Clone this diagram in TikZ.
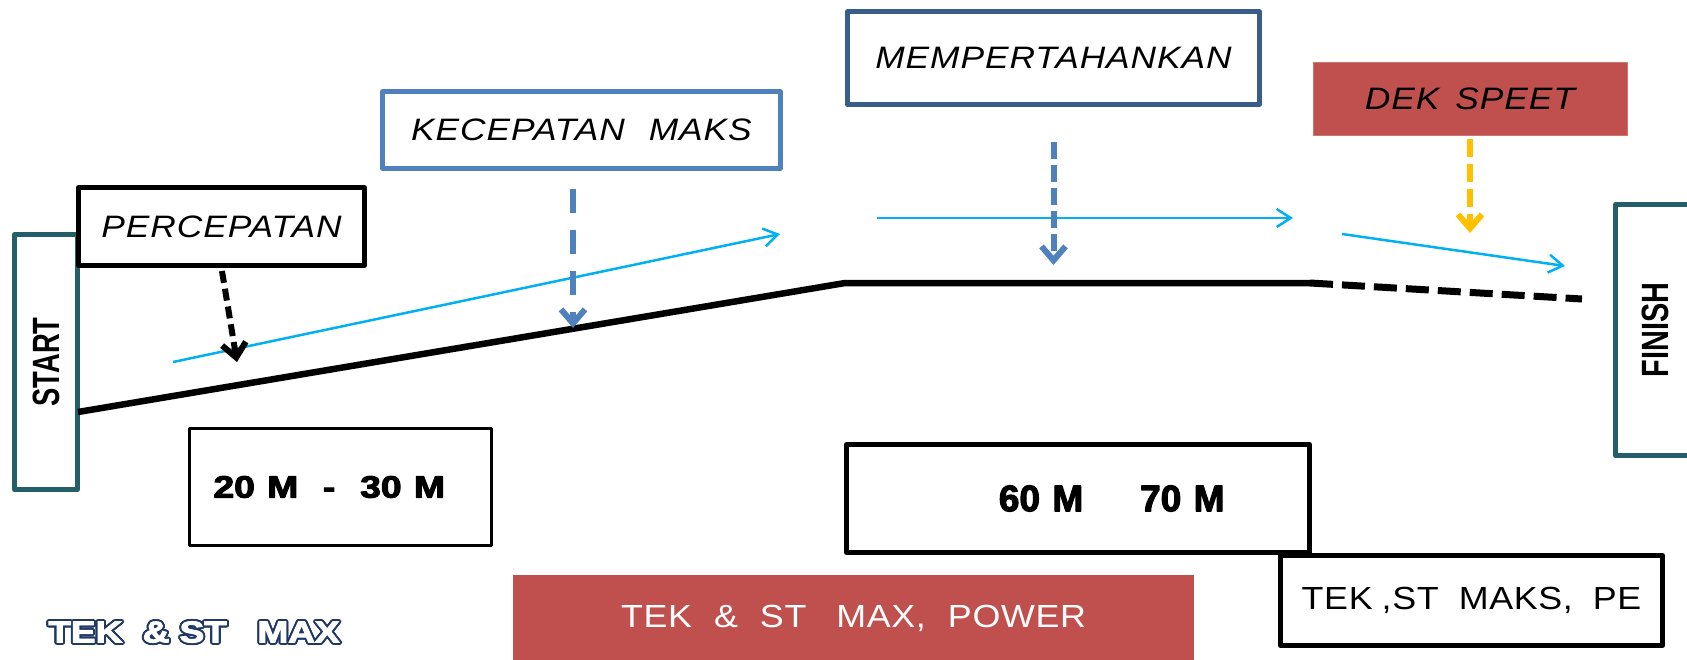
\documentclass[tikz,border=0pt]{standalone}
\usepackage{graphicx}
\usepackage{fontspec}
\usepackage{contour}
\setmainfont{Liberation Sans}
\newfontfamily\spacedfont{Liberation Sans}[FakeStretch=1.12,LetterSpace=2]
\newfontfamily\phasefont{Liberation Sans}[FakeStretch=1.14,LetterSpace=3]
\newfontfamily\heavyfont{Liberation Sans Bold}[FakeBold=3]
\usetikzlibrary{arrows.meta}
\definecolor{tealline}{HTML}{245E6B}
\definecolor{midblue}{HTML}{4F81BD}
\definecolor{darkblue}{HTML}{385D8A}
\definecolor{brickred}{HTML}{C0504D}
\definecolor{skyline}{HTML}{00B0F0}
\definecolor{goldline}{HTML}{FFC000}
\definecolor{navytext}{HTML}{1F3864}
\contourlength{2pt}
\tikzset{
	endstyle/.style={rectangle,draw=tealline,line width=5pt,line join=round,rotate=90,inner sep=0pt,font=\bfseries\fontsize{38}{40}\selectfont},
	phasestyle/.style={rectangle,line width=5pt,line join=round,inner sep=0pt,font=\phasefont\itshape\fontsize{31}{36}\selectfont},
	rangestyle/.style={rectangle,draw=black,line join=round,inner sep=0pt},
	redstyle/.style={rectangle,fill=brickred,inner sep=0pt},
	pacestyle/.style={draw=skyline,line width=2.5pt,-{Straight Barb[length=14pt,width=18pt]}},
	cuestyle/.style={line width=6pt,-{Straight Barb[length=14pt,width=24pt]}}
}

\begin{document}
\begin{tikzpicture}[x=1pt,y=-1pt]
	\useasboundingbox (0,0) rectangle (1687,659);
	\node[endstyle,minimum width=255pt,minimum height=63pt] (start) at (46,362) {\scalebox{0.72}[1]{START}};
	\node[endstyle,minimum width=251pt,minimum height=80pt] (finish) at (1655.5,330) {\scalebox{0.76}[1]{FINISH}};
	\node[phasestyle,draw=black,minimum width=286pt,minimum height=78pt] (percepatan) at (221.5,226.5) {PERCEPATAN};
	\node[phasestyle,draw=midblue,line width=4.5pt,minimum width=398pt,minimum height=77pt] (kecepatan) at (581.5,130) {KECEPATAN\hspace{24pt}MAKS};
	\node[phasestyle,draw=darkblue,minimum width=412pt,minimum height=93pt] (bertahan) at (1053.5,58) {MEMPERTAHANKAN};
	\node[phasestyle,fill=brickred,draw=brickred!80!white,line width=1pt,minimum width=314pt,minimum height=73pt] (dekspeet) at (1470,98.5) {DEK\hspace{16pt}SPEET};
	\node[rangestyle,line width=3pt,minimum width=302pt,minimum height=117pt,inner xsep=24pt,text width=254pt,align=left,font=\heavyfont\fontsize{31}{34}\selectfont] (jarak1) at (340.5,487) {\scalebox{1.2}[1]{20 M~~-~~30 M}};
	\node[rangestyle,line width=5pt,minimum width=463pt,minimum height=108pt,inner xsep=85pt,text width=293pt,align=right,font=\heavyfont\fontsize{37}{40}\selectfont] (jarak2) at (1078,498.5) {\raisebox{-6pt}{60 M\hspace{57pt}70 M}};
	\node[rangestyle,line width=5pt,minimum width=382pt,minimum height=90pt,font=\spacedfont\fontsize{32}{36}\selectfont] (teknik) at (1471.5,600.5) {TEK\hspace{9pt},ST\hspace{20pt}MAKS,\hspace{20pt}PE};
	\node[redstyle,minimum width=681pt,minimum height=86pt,text=white,font=\spacedfont\fontsize{32}{36}\selectfont] (latihan) at (853.5,618) {TEK\hspace{22pt}\&\hspace{22pt}ST\hspace{30pt}MAX,\hspace{22pt}POWER};
	\node[inner sep=0pt,font=\heavyfont\fontsize{30}{32}\selectfont] (tekmax) at (194,633) {\contour{navytext}{\textcolor{white}{\scalebox{1.23}[1]{TEK~~\&~ST~~~MAX}}}};
	\coordinate (r0) at (78,412);
	\coordinate (r1) at (845,283);
	\coordinate (r2) at (1310,283);
	\coordinate (r3) at (1582,299);
	\draw[line width=6.5pt] (r0) -- (r1) -- (r2);
	\draw[line width=7pt,dash pattern=on 23pt off 9pt] (r2) -- (r3);
	\coordinate (p0) at (173,362);
	\coordinate (p1) at (780,234);
	\coordinate (q0) at (877,218);
	\coordinate (q1) at (1293,218);
	\coordinate (s0) at (1342,234);
	\coordinate (s1) at (1565,266);
	\draw[pacestyle] (p0) -- (p1);
	\draw[pacestyle] (q0) -- (q1);
	\draw[pacestyle] (s0) -- (s1);
	\coordinate (a1) at (237,362);
	\coordinate (a2) at (573,328);
	\coordinate (a3) at (1053.5,265);
	\coordinate (a4) at (1470,233);
	\draw[cuestyle,draw=black,dash pattern=on 12pt off 6pt,shorten <=3pt] (percepatan.south) -- (a1);
	\draw[cuestyle,draw=midblue,dash pattern=on 24pt off 17pt,shorten <=18pt] (kecepatan.south -| a2) -- (a2);
	\draw[cuestyle,draw=midblue,dash pattern=on 17pt off 6pt,shorten <=35pt] (bertahan.south) -- (a3);
	\draw[cuestyle,draw=goldline,dash pattern=on 18pt off 7pt,shorten <=3pt] (dekspeet.south) -- (a4);
\end{tikzpicture}
\end{document}
